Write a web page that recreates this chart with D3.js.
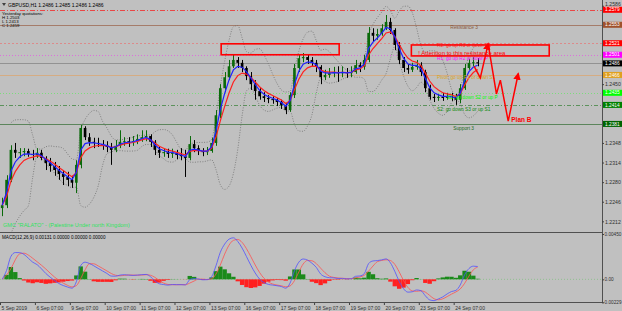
<!DOCTYPE html>
<html>
<head>
<meta charset="utf-8">
<script src="https://cdn.jsdelivr.net/npm/d3@7"></script>
<style>
  body { margin: 0; background: #c0c0c0; }
  svg { display: block; font-family: "Liberation Sans", Arial, sans-serif; }
</style>
</head>
<body>
<svg id="chart"></svg>
<script>
// GBPUSD candles, one per 3 hours: [open, high, low, close]
const bars = [
  [1.2235,1.2253,1.2221,1.2240],[1.2240,1.2292,1.2235,1.2284],[1.2284,1.2344,1.2280,1.2336],[1.2336,1.2348,1.2322,1.2331],
  [1.2331,1.2339,1.2322,1.2332],[1.2332,1.2339,1.2325,1.2334],[1.2334,1.2338,1.2324,1.2329],[1.2329,1.2336,1.2318,1.2327],
  [1.2327,1.2339,1.2322,1.2331],[1.2331,1.2336,1.2318,1.2322],[1.2322,1.2325,1.2301,1.2313],[1.2313,1.2322,1.2298,1.2308],
  [1.2308,1.2315,1.2291,1.2301],[1.2301,1.2308,1.2284,1.2294],[1.2294,1.2301,1.2275,1.2289],[1.2289,1.2298,1.2273,1.2284],
  [1.2284,1.2291,1.2270,1.2279],[1.2279,1.2318,1.2261,1.2310],[1.2310,1.2379,1.2304,1.2374],[1.2374,1.2377,1.2353,1.2358],
  [1.2358,1.2365,1.2343,1.2350],[1.2350,1.2357,1.2339,1.2348],[1.2348,1.2357,1.2341,1.2346],[1.2346,1.2353,1.2336,1.2344],
  [1.2344,1.2351,1.2332,1.2341],[1.2341,1.2348,1.2310,1.2336],[1.2336,1.2353,1.2332,1.2343],[1.2343,1.2370,1.2339,1.2350],
  [1.2350,1.2358,1.2343,1.2351],[1.2351,1.2358,1.2341,1.2350],[1.2350,1.2360,1.2343,1.2351],[1.2351,1.2363,1.2346,1.2355],
  [1.2355,1.2370,1.2350,1.2358],[1.2358,1.2370,1.2351,1.2360],[1.2360,1.2363,1.2341,1.2350],[1.2350,1.2353,1.2327,1.2336],
  [1.2336,1.2341,1.2322,1.2331],[1.2331,1.2338,1.2324,1.2332],[1.2332,1.2338,1.2322,1.2329],[1.2329,1.2338,1.2322,1.2331],
  [1.2331,1.2336,1.2320,1.2327],[1.2327,1.2339,1.2318,1.2325],[1.2325,1.2336,1.2289,1.2322],[1.2322,1.2360,1.2318,1.2346],
  [1.2346,1.2353,1.2332,1.2339],[1.2339,1.2344,1.2327,1.2334],[1.2334,1.2339,1.2325,1.2332],[1.2332,1.2341,1.2327,1.2334],
  [1.2334,1.2357,1.2331,1.2348],[1.2348,1.2405,1.2343,1.2396],[1.2396,1.2450,1.2391,1.2443],[1.2443,1.2471,1.2436,1.2462],
  [1.2462,1.2492,1.2457,1.2481],[1.2481,1.2501,1.2478,1.2492],[1.2492,1.2497,1.2478,1.2487],[1.2487,1.2492,1.2471,1.2478],
  [1.2478,1.2481,1.2457,1.2464],[1.2464,1.2471,1.2440,1.2450],[1.2450,1.2457,1.2423,1.2438],[1.2438,1.2443,1.2423,1.2429],
  [1.2429,1.2436,1.2419,1.2426],[1.2426,1.2431,1.2417,1.2424],[1.2424,1.2429,1.2416,1.2423],[1.2423,1.2426,1.2412,1.2419],
  [1.2419,1.2423,1.2407,1.2414],[1.2414,1.2417,1.2398,1.2405],[1.2405,1.2436,1.2402,1.2431],[1.2431,1.2485,1.2426,1.2478],
  [1.2478,1.2502,1.2471,1.2495],[1.2495,1.2504,1.2488,1.2497],[1.2497,1.2501,1.2485,1.2492],[1.2492,1.2497,1.2480,1.2487],
  [1.2487,1.2492,1.2471,1.2480],[1.2480,1.2483,1.2450,1.2462],[1.2462,1.2475,1.2457,1.2466],[1.2466,1.2478,1.2461,1.2469],
  [1.2469,1.2480,1.2462,1.2471],[1.2471,1.2481,1.2454,1.2469],[1.2469,1.2481,1.2462,1.2471],[1.2471,1.2478,1.2461,1.2469],
  [1.2469,1.2481,1.2462,1.2471],[1.2471,1.2492,1.2468,1.2483],[1.2483,1.2488,1.2471,1.2480],[1.2480,1.2501,1.2475,1.2492],
  [1.2492,1.2549,1.2488,1.2539],[1.2539,1.2547,1.2523,1.2534],[1.2534,1.2546,1.2527,1.2537],[1.2537,1.2554,1.2534,1.2547],
  [1.2547,1.2570,1.2544,1.2558],[1.2558,1.2565,1.2537,1.2544],[1.2544,1.2547,1.2509,1.2518],[1.2518,1.2523,1.2485,1.2492],
  [1.2492,1.2497,1.2471,1.2478],[1.2478,1.2485,1.2468,1.2475],[1.2475,1.2487,1.2471,1.2480],[1.2480,1.2492,1.2475,1.2483],
  [1.2483,1.2488,1.2464,1.2471],[1.2471,1.2475,1.2436,1.2443],[1.2443,1.2449,1.2423,1.2428],[1.2428,1.2433,1.2419,1.2426],
  [1.2426,1.2433,1.2421,1.2428],[1.2428,1.2435,1.2421,1.2426],[1.2426,1.2435,1.2423,1.2429],[1.2429,1.2435,1.2421,1.2428],
  [1.2428,1.2433,1.2414,1.2423],[1.2423,1.2450,1.2417,1.2443],[1.2443,1.2485,1.2440,1.2478],[1.2478,1.2494,1.2475,1.2487],
  [1.2487,1.2497,1.2481,1.2488],[1.2488,1.2495,1.2481,1.2486]
];

// day separators (bar index) and their labels
const dayStarts = [0, 8, 16, 24, 32, 40, 48, 56, 64, 72, 80, 88, 96, 104];
const dayLabels = ["5 Sep 2019", "6 Sep 07:00", "9 Sep 07:00", "10 Sep 07:00", "11 Sep 07:00", "12 Sep 07:00",
  "13 Sep 07:00", "16 Sep 07:00", "17 Sep 07:00", "18 Sep 07:00", "19 Sep 07:00", "20 Sep 07:00",
  "23 Sep 07:00", "24 Sep 07:00"];

const priceTicks = [1.2586, 1.2552, 1.2518, 1.2484, 1.2450, 1.2416, 1.2382, 1.2348, 1.2314, 1.2280, 1.2246, 1.2212];
const macdTicks = [0.0045, 0, -0.00229];
const macdTickLabels = ["0.00450", "0.00", "-0.00229"];

// horizontal levels: top line, R3, R2, R1, bid, pivot, S1, S2, S3
const levelPrices = [1.2579, 1.2553, 1.2521, 1.2501, 1.2486, 1.2466, 1.2435, 1.2414, 1.2381];

// level notes written on the chart
const noteTexts = ["Resistance 3", "R2: go up R3 or down R1", "R1: go up R2 or down P", "Pivot: go up R1 or down S1",
  "S1: go down S2 or up P", "S2: go down S3 or up S1", "Support 3"];
const noteBars = [103.2, 100.2, 100.2, 100.2, 102.5, 100.2, 103.9];
const notePrices = [1.2549, 1.2517, 1.2494, 1.2461, 1.2428, 1.2407, 1.2374];

// hand drawn resistance boxes [fromBar, toBar, topPrice, bottomPrice]
const zoneBoxes = [[50.7, 77.75, 1.2520, 1.2501], [94.3, 125.9, 1.2518, 1.2499]];

// forecast zigzag
const planBars = [108.7, 110.1, 111.9, 113.8, 114.7, 116.5, 118.8];
const planPrices = [1.2481, 1.2461, 1.2520, 1.2433, 1.2457, 1.2386, 1.2468];

const W = 622, H = 311;
const plotR = 602;
const mainTop = 0, mainBottom = 232;
const macdTop = 234, macdBottom = 302;

const svg = d3.select("#chart").attr("width", W).attr("height", H);

svg.append("rect").attr("width", W).attr("height", H).attr("fill", "#c0c0c0");

// Scales
const x = d3.scaleLinear().domain([0, 138]).range([0, plotR]);
const y = d3.scaleLinear().domain([1.21935, 1.2596]).range([mainBottom, mainTop]);
const ym = d3.scaleLinear().domain([-0.00225, 0.0045]).range([macdBottom, macdTop]);
const bw = x(1) - x(0);

const defs = svg.append("defs");
defs.append("clipPath").attr("id", "clipMain").append("rect")
  .attr("x", 0).attr("y", mainTop).attr("width", plotR).attr("height", mainBottom - mainTop);
defs.append("clipPath").attr("id", "clipMacd").append("rect")
  .attr("x", 0).attr("y", macdTop).attr("width", plotR).attr("height", macdBottom - macdTop);
defs.append("marker").attr("id", "arrow").attr("viewBox", "0 0 10 10")
  .attr("refX", 8).attr("refY", 5).attr("markerWidth", 5).attr("markerHeight", 5)
  .attr("orient", "auto").append("path").attr("d", "M0,0L10,5L0,10Z").attr("fill", "#ff0000");

// Indicators from the closes
const closes = bars.map(b => b[3]);
function ema(arr, n) {
  const k = 2 / (n + 1);
  let prev = arr[0];
  return arr.map((v, i) => (prev = i ? v * k + prev * (1 - k) : v));
}
const maFast = ema(closes, 3);
const maSlow = ema(closes, 5);
const bbN = 7;
const bands = closes.map((c, i) => {
  const w = closes.slice(Math.max(0, i - bbN + 1), i + 1);
  const m = d3.mean(w), s = w.length > 1 ? d3.deviation(w) : 0;
  return { i, up: m + 2 * s, lo: m - 2 * s };
}).filter(d => d.i >= 2);
const emaF = ema(closes, 4), emaS = ema(closes, 9);
const macdMain = closes.map((c, i) => emaF[i] - emaS[i]);
const macdSig = macdMain.map((v, i) => d3.mean(macdMain.slice(Math.max(0, i - 2), i + 1)));
const osma = macdMain.map((v, i) => v - macdSig[i]);

const main = svg.append("g").attr("clip-path", "url(#clipMain)");

// Level lines
const levelStyle = [
  { c: "#f03030", d: "5,2,1,2", box: "#ff0000" },
  { c: "#a0705a", d: null, box: "#a0522d" },
  { c: "#e08080", d: "2,2", box: "#ff0000" },
  { c: "#e060e0", d: "1,2", box: "#ff00ff" },
  { c: "#8a8a8a", d: null, box: "#000000" },
  { c: "#d8a878", d: null, box: "#e0a020" },
  { c: "#70e070", d: "1,2", box: "#00ff00" },
  { c: "#4a8a4a", d: "4,2,1,2", box: "#008000" },
  { c: "#4a7a4a", d: null, box: "#006400" }
];
main.selectAll("line.level").data(levelPrices).enter().append("line")
  .attr("class", "level")
  .attr("x1", 0).attr("x2", plotR)
  .attr("y1", d => Math.round(y(d)) + 0.5).attr("y2", d => Math.round(y(d)) + 0.5)
  .attr("stroke", (d, i) => levelStyle[i].c)
  .attr("stroke-dasharray", (d, i) => levelStyle[i].d)
  .attr("stroke-opacity", 0.85)
  .attr("stroke-width", 1);

// Bollinger bands
["up", "lo"].forEach(k => {
  main.append("path").datum(bands)
    .attr("fill", "none").attr("stroke", "#707070").attr("stroke-width", 0.8)
    .attr("stroke-dasharray", "1,1.5")
    .attr("d", d3.line().curve(d3.curveMonotoneX).x(d => x(d.i + 0.5)).y(d => y(d[k])));
});

// Candles
const candle = main.selectAll("g.candle").data(bars).enter().append("g").attr("class", "candle");
candle.append("line")
  .attr("x1", (d, i) => Math.round(x(i + 0.5)) + 0.5).attr("x2", (d, i) => Math.round(x(i + 0.5)) + 0.5)
  .attr("y1", d => y(d[1])).attr("y2", d => y(d[2]))
  .attr("stroke", d => d[3] >= d[0] ? "#0a6a0a" : "#000");
candle.append("rect")
  .attr("x", (d, i) => x(i + 0.5) - bw * 0.3).attr("width", bw * 0.6)
  .attr("y", d => y(Math.max(d[0], d[3])))
  .attr("height", d => Math.max(1, Math.abs(y(d[0]) - y(d[3]))))
  .attr("fill", d => d[3] >= d[0] ? "#0a6a0a" : "#000");

// Moving averages
main.append("path").datum(maSlow)
  .attr("fill", "none").attr("stroke", "#ff2020").attr("stroke-width", 1.2)
  .attr("d", d3.line().x((d, i) => x(i + 0.5)).y(d => y(d)));
main.append("path").datum(maFast)
  .attr("fill", "none").attr("stroke", "#2020ff").attr("stroke-width", 1.2)
  .attr("d", d3.line().x((d, i) => x(i + 0.5)).y(d => y(d)));

// Level notes
const noteColors = ["#8b5a3c", "#ff3030", "#ff00ff", "#daa520", "#00ff00", "#0a8a0a", "#1a6a1a"];
main.selectAll("text.note").data(noteTexts).enter().append("text")
  .attr("x", (d, i) => x(noteBars[i])).attr("y", (d, i) => y(notePrices[i]))
  .attr("dy", "0.35em").attr("font-size", 4.8).attr("fill", (d, i) => noteColors[i])
  .text(d => d);

// Resistance boxes
main.selectAll("rect.zone").data(zoneBoxes).enter().append("rect")
  .attr("x", d => x(d[0])).attr("width", d => x(d[1]) - x(d[0]))
  .attr("y", d => y(d[2])).attr("height", d => y(d[3]) - y(d[2]))
  .attr("fill", "none").attr("stroke", "#ff0000").attr("stroke-width", 1.6);
main.append("text")
  .attr("x", x(95.9)).attr("y", y(1.2504)).attr("dy", "0.35em")
  .attr("font-size", 6).attr("fill", "#ff0000")
  .text("! Attention to this resistance area");

// Plan zigzag with arrows
const planPts = planBars.map((b, i) => [x(b), y(planPrices[i])]);
main.append("path")
  .attr("d", d3.line()(planPts.slice(0, 3)))
  .attr("fill", "none").attr("stroke", "#ff0000").attr("stroke-width", 1.5)
  .attr("marker-end", "url(#arrow)");
main.append("path")
  .attr("d", d3.line()(planPts.slice(2)))
  .attr("fill", "none").attr("stroke", "#ff0000").attr("stroke-width", 1.5)
  .attr("marker-end", "url(#arrow)");
main.append("text")
  .attr("x", x(117.2)).attr("y", y(1.2389)).attr("dy", "0.35em")
  .attr("font-size", 6.5).attr("font-weight", "bold").attr("fill", "#ff0000")
  .text("Plan B");

// Header texts
svg.append("path").attr("d", "M2,3L6,3L4,6Z").attr("fill", "#404040");
svg.append("text").attr("x", 8).attr("y", 5).attr("dy", "0.35em").attr("font-size", 5).attr("fill", "#000")
  .text("GBPUSD,H1  1.2486 1.2485 1.2486 1.2486");
const quoteLines = ["Yesterday quotations:", "H 1.2503", "L 1.2413", "C 1.2459"];
svg.selectAll("text.quote").data(quoteLines).enter().append("text")
  .attr("x", 2).attr("y", (d, i) => 13.7 + i * 3.9).attr("dy", "0.35em")
  .attr("font-size", 4.3).attr("fill", "#000").text(d => d);
svg.append("text").attr("x", 3).attr("y", 225).attr("dy", "0.35em").attr("font-size", 5.6).attr("fill", "#30e060")
  .text("GMC \"RALATO\" - (Palestine Under north Kingdom)");

// MACD pane
const macdG = svg.append("g").attr("clip-path", "url(#clipMacd)");
macdG.append("line").attr("x1", 0).attr("x2", plotR).attr("y1", ym(0)).attr("y2", ym(0))
  .attr("stroke", "#90c090").attr("stroke-dasharray", "1,2");
macdG.selectAll("rect.hist").data(osma).enter().append("rect")
  .attr("x", (d, i) => x(i)).attr("width", bw)
  .attr("y", d => d >= 0 ? ym(d) : ym(0))
  .attr("height", d => Math.abs(ym(d) - ym(0)))
  .attr("fill", d => d >= 0 ? "#1a8a1a" : "#ff2020");
macdG.append("path").datum(macdSig)
  .attr("fill", "none").attr("stroke", "#ff5050").attr("stroke-width", 0.8)
  .attr("d", d3.line().curve(d3.curveMonotoneX).x((d, i) => x(i + 0.5)).y(d => ym(d)));
macdG.append("path").datum(macdMain)
  .attr("fill", "none").attr("stroke", "#5050ff").attr("stroke-width", 0.8)
  .attr("d", d3.line().curve(d3.curveMonotoneX).x((d, i) => x(i + 0.5)).y(d => ym(d)));
svg.append("text").attr("x", 2).attr("y", 237).attr("dy", "0.35em").attr("font-size", 4.6).attr("fill", "#000")
  .text("MACD(12,26,9) 0.00131 0.00000 0.00000 0.00000");

// Pane borders
svg.append("line").attr("x1", 0).attr("x2", plotR).attr("y1", mainBottom + 0.5).attr("y2", mainBottom + 0.5)
  .attr("stroke", "#505050");
svg.append("line").attr("x1", 0).attr("x2", plotR).attr("y1", macdBottom + 0.5).attr("y2", macdBottom + 0.5)
  .attr("stroke", "#505050");
svg.append("line").attr("x1", plotR + 0.5).attr("x2", plotR + 0.5).attr("y1", 0).attr("y2", macdBottom + 1)
  .attr("stroke", "#505050");

// Price axis: ticks hidden behind a level box are left out, as in the terminal
const shownTicks = priceTicks.filter(t => levelPrices.every(l => Math.abs(y(t) - y(l)) > 5.5) || t === priceTicks[0]);
const yAxis = svg.append("g").attr("transform", `translate(${plotR},0)`)
  .call(d3.axisRight(y).tickValues(shownTicks).tickFormat(d3.format(".4f")).tickSize(2).tickPadding(1));
yAxis.select(".domain").remove();
yAxis.selectAll("text").attr("font-size", 5.2).attr("fill", "#303030").attr("font-family", "Liberation Sans, Arial");
yAxis.selectAll("line").attr("stroke", "#404040");
// top label sits just above its neighbouring box
yAxis.selectAll(".tick").filter(d => d === priceTicks[0]).select("text").attr("dy", "-0.1em");

// Level price boxes on the axis
const boxG = svg.selectAll("g.lvbox").data(levelPrices).enter().append("g").attr("class", "lvbox");
boxG.append("rect")
  .attr("x", plotR + 1).attr("width", W - plotR - 1)
  .attr("y", d => y(d) - 3).attr("height", 6)
  .attr("fill", (d, i) => levelStyle[i].box);
boxG.append("text")
  .attr("x", plotR + 3).attr("y", d => y(d)).attr("dy", "0.35em")
  .attr("font-size", 4.8).attr("fill", "#fff")
  .text(d => d3.format(".4f")(d));

// MACD axis
const mAxis = svg.append("g").attr("transform", `translate(${plotR},0)`)
  .call(d3.axisRight(ym).tickValues(macdTicks).tickFormat((d, i) => macdTickLabels[i]).tickSize(2).tickPadding(0.5));
mAxis.select(".domain").remove();
mAxis.selectAll("text").attr("font-size", 4.7).attr("fill", "#303030").attr("font-family", "Liberation Sans, Arial");
mAxis.selectAll("line").attr("stroke", "#404040");
// keep the long negative label inside the window
mAxis.selectAll(".tick").filter(d => d < 0).select("text")
  .attr("text-anchor", "end").attr("x", W - plotR - 0.5);

// Time axis
const xAxis = svg.append("g").attr("transform", `translate(0,${macdBottom + 1})`)
  .call(d3.axisBottom(x).tickValues(dayStarts).tickFormat((d, i) => dayLabels[i]).tickSize(2).tickPadding(1));
xAxis.select(".domain").remove();
xAxis.selectAll("text").attr("font-size", 5).attr("fill", "#303030")
  .attr("text-anchor", "start").attr("dx", 1).attr("font-family", "Liberation Sans, Arial");
xAxis.selectAll("line").attr("stroke", "#404040");
</script>
</body>
</html>
